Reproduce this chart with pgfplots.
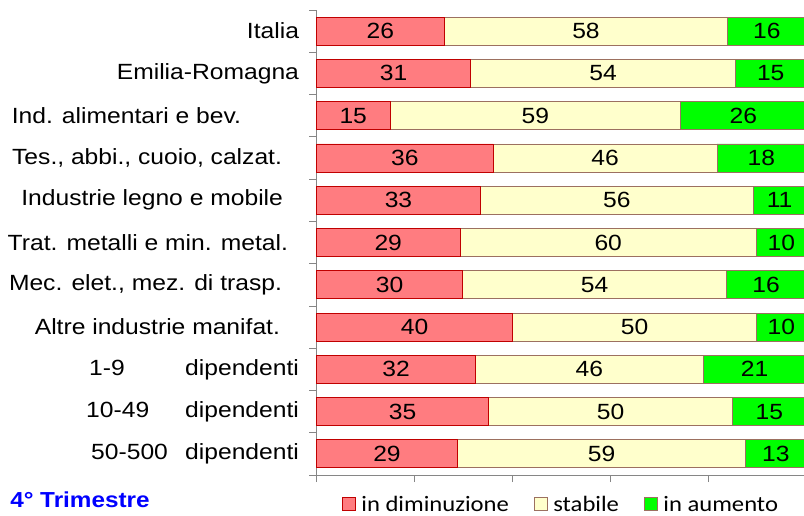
\documentclass[border=0pt]{standalone}
\usepackage{pgfplots}
\usepackage{pgfplotstable}
\pgfplotsset{compat=1.18}
\usepackage{fontspec}
\setmainfont{Liberation Sans}[FakeStretch=1.12]
\newfontfamily\carlito{Carlito}[FakeStretch=1.12]

\definecolor{cdim}{HTML}{FF7C80}
\definecolor{cstab}{HTML}{FFFFCC}
\definecolor{caum}{HTML}{00FF00}
\definecolor{axgray}{HTML}{868686}
\definecolor{edgebr}{HTML}{9C7060}
\definecolor{edgered}{HTML}{C00000}
\definecolor{titleblue}{HTML}{0000FF}

% idx 10 = top row (Italia); bar lengths read off the picture, labels as printed
\pgfplotstableread{
idx dim  stab aum  ldim lstab laum
10  26.1 57.9 16.0 26   58    16
9   31.5 54.1 14.4 31   54    15
8   15.0 59.4 25.6 15   59    26
7   36.1 45.7 18.2 36   46    18
6   33.5 55.7 10.8 33   56    11
5   29.3 60.6 10.1 29   60    10
4   29.9 53.8 16.3 30   54    16
3   40.1 49.8 10.1 40   50    10
2   32.5 46.5 21.0 32   46    21
1   35.2 49.8 15.0 35   50    15
0   28.8 58.9 12.3 29   59    13
}\data

\begin{document}
\begin{tikzpicture}
\useasboundingbox (-316.5pt,-40pt) rectangle (487.5pt,475pt);
\begin{axis}[
    at={(0pt,0pt)}, anchor=south west,
    scale only axis,
    width=489.5pt, height=465pt,
    xbar stacked,
    bar width=28pt,
    xmin=0, xmax=100,
    ymin=-0.5, ymax=10.5,
    axis lines=left,
    axis line style={axgray, line width=0.8pt, -},
    clip=false,
    xtick={0,20,...,100},
    xticklabels={},
    tick align=outside,
    major tick length=7pt,
    minor tick length=7pt,
    every major x tick/.style={axgray, line width=0.8pt},
    ytick={0,...,10},
    every major y tick/.style={draw=none},
    minor ytick={-0.5,0.5,...,10.5},
    every minor y tick/.style={axgray, line width=0.8pt},
    yticklabel style={font=\fontsize{22}{22}\selectfont, anchor=east, xshift=-7pt},
    yticklabels={
        {\makebox[94pt][l]{50-500}dipendenti},
        {\makebox[99pt][l]{10-49}dipendenti},
        {\makebox[96pt][l]{1-9}dipendenti},
        {Altre industrie manifat.\hspace{19pt}\null},
        {Mec. elet., mez. di trasp.\hspace{17pt}\null},
        {Trat. metalli e min. metal.\hspace{11pt}\null},
        {Industrie legno e mobile\hspace{16pt}\null},
        {Tes., abbi., cuoio, calzat.\hspace{17pt}\null},
        {Ind. alimentari e bev.\hspace{58pt}\null},
        {Emilia-Romagna},
        {Italia}},
    point meta=explicit symbolic,
    nodes near coords,
    every node near coord/.style={font=\fontsize{22}{22}\selectfont, black, anchor=center},
    legend style={at={(0.4995,-0.063)}, anchor=center, draw=none, fill=none,
        legend columns=-1, font=\carlito\fontsize{22}{22}\selectfont,
        nodes={inner ysep=0pt},
        /tikz/every even column/.append style={column sep=23pt}},
    legend image code/.code={\draw[#1] (0pt,-6.5pt) rectangle (13pt,6.5pt);
        \path[draw=none, fill=none] (0pt,0pt) -- (17pt,0pt);},
]
\addplot[fill=cdim, draw=edgered, line width=0.8pt]
    table[x=dim, y=idx, meta=ldim] {\data};
\addplot[fill=cstab, draw=edgebr, line width=0.8pt]
    table[x=stab, y=idx, meta=lstab] {\data};
\addplot[fill=caum, draw=edgebr, line width=0.8pt]
    table[x=aum, y=idx, meta=laum] {\data};
\legend{in diminuzione, stabile, in aumento}

\node[anchor=west, inner sep=0pt, text=titleblue, font=\bfseries\fontsize{21.7}{22}\selectfont]
    at (rel axis cs:-0.626,-0.054) {4° Trimestre};
\end{axis}
\end{tikzpicture}
\end{document}
